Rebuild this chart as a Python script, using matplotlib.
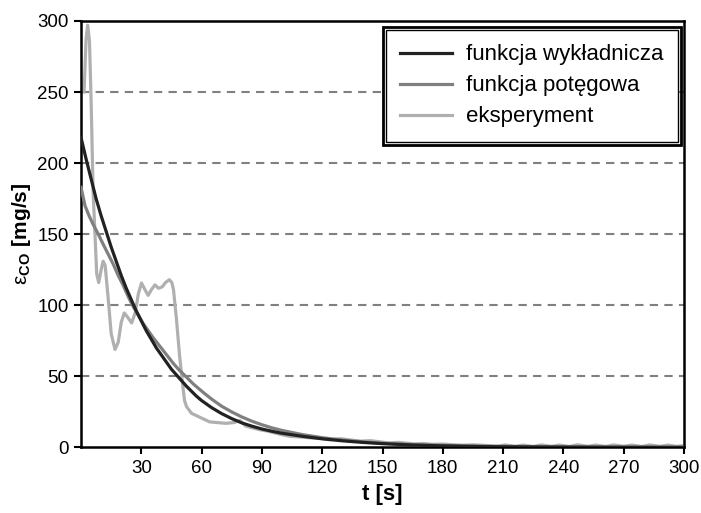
"""CO emission vs time: exponential and power fits against experiment."""

import matplotlib
matplotlib.use("Agg")
import matplotlib.pyplot as plt
from matplotlib.patches import Rectangle

plt.rcParams["font.family"] = ["Liberation Sans", "DejaVu Sans"]
plt.rcParams["mathtext.fontset"] = "custom"
plt.rcParams["mathtext.rm"] = "Liberation Sans"
plt.rcParams["mathtext.bf"] = "Liberation Sans:bold"

# fitted exponential function
t_exp = [0, 2.5, 5, 7.5, 10, 12.5, 15, 17.5, 20, 22.5, 25, 27.5, 30, 32.5,
         35, 37.5, 40, 42.5, 45, 47.5, 50, 52.5, 55, 57.5, 60, 65, 70, 75,
         80, 85, 90, 95, 100, 110, 120, 130, 140, 150, 165, 180, 200, 230,
         260, 300]
v_exp = [218, 203, 189, 175, 163, 152, 141, 131, 121, 112, 104, 96, 89, 82,
         76, 70, 65, 60, 55, 51, 47, 43, 39.5, 36, 33, 28, 23.8, 20.3, 17.3,
         15, 13, 11.4, 10, 7.9, 6.1, 4.7, 3.6, 2.7, 1.7, 1.1, 0.6, 0.3, 0.15,
         0.05]

# fitted power function
t_pow = [0, 2, 4, 6, 8.6, 11, 13.5, 16, 18.5, 21, 23.5, 26, 28.5, 31, 33.5,
         36, 38.5, 41, 43.5, 46, 48.5, 51, 53.5, 56, 58.5, 61, 65, 70, 75,
         80, 85, 90, 95, 100, 110, 120, 130, 140, 150, 165, 180, 200, 230,
         260, 300]
v_pow = [183, 170, 163, 157, 150, 143, 136, 129, 121, 114, 106, 99, 93, 87,
         82, 77, 72.5, 68, 63.5, 59, 55, 51.5, 48, 44.5, 41.5, 38.5, 34, 29,
         25, 21.5, 18.5, 16, 13.8, 12, 9.1, 6.9, 5.2, 4, 3, 2.1, 1.5, 0.9,
         0.5, 0.3, 0.15]

# experiment
t_meas = [1.5, 2.5, 3.3, 4.2, 5, 6, 7, 7.8, 8.8, 10, 11, 12, 13.5, 15, 16.9,
          18.5, 20, 21.5, 23, 25.2, 27, 28.5, 30.1, 31.8, 33.4, 35, 36.8,
          38.5, 40.4, 42, 43.9, 45.2, 46, 47.5, 49, 50.5, 51.5, 52.5, 55, 58,
          61, 64, 68, 72, 76, 79, 82, 86, 89, 93, 97, 100, 104, 108, 114, 119,
          124, 129, 134, 139, 144, 148.5, 153, 158, 162, 166, 170, 175, 180,
          184, 190, 195, 202, 207, 211, 216, 220, 225, 229, 234, 238, 243,
          247, 252, 256, 261, 265, 270, 274, 279, 283, 288, 292, 296, 300]
v_meas = [250, 287, 297, 286, 245, 180, 148, 122, 116, 125, 131, 128, 105, 80,
          69, 74, 88, 94.6, 92, 87.6, 95, 108, 115.7, 111, 107, 111, 114.4,
          112, 113, 116, 118, 116, 111, 90, 65, 45, 33, 28.7, 24, 22, 20, 18,
          17.5, 17, 17.5, 19, 15, 13.5, 12.5, 11.5, 10, 9, 7.8, 7.5, 6.8, 6.6,
          5.5, 6.2, 5.3, 4.5, 4.8, 4, 3.2, 3.6, 3, 2.5, 2.8, 2.2, 2.4, 2, 1.6,
          1.9, 1.4, 0.8, 1.8, 0.8, 1.7, 0.7, 1.8, 0.8, 1.7, 0.7, 1.9, 0.8,
          1.7, 0.7, 1.8, 0.8, 1.7, 0.7, 1.8, 0.8, 1.7, 0.8, 1.2]

x_ticks = list(range(30, 301, 30))
y_ticks = list(range(0, 301, 50))

fig = plt.figure(figsize=(7.01, 5.13), dpi=100)
ax = fig.add_axes([0.1156, 0.1277, 0.8601, 0.8314])

for y in y_ticks[1:-1]:
    ax.axhline(y, color="#808080", lw=1.5, ls=(0, (4, 3)), zorder=1)

ax.plot(t_exp, v_exp, color="#222222", lw=2.3, label="funkcja wykładnicza",
        zorder=4)
ax.plot(t_pow, v_pow, color="#808080", lw=2.3, label="funkcja potęgowa",
        zorder=3)
ax.plot(t_meas, v_meas, color="#b0b0b0", lw=2.3, label="eksperyment",
        zorder=2)

ax.set_xlim(0, 300)
ax.set_ylim(0, 300)
ax.set_xticks(x_ticks)
ax.set_yticks(y_ticks)
ax.tick_params(direction="out", length=5, width=1.5, labelsize=13.5, pad=4)
for s in ax.spines.values():
    s.set_linewidth(1.8)

ax.set_xlabel("t [s]", fontsize=16, fontweight="bold", labelpad=5)
ax.set_ylabel(r"$\mathrm{ε}_{\mathbf{CO}}\ \mathbf{[mg/s]}$", fontsize=15,
              labelpad=3)

leg = ax.legend(loc="upper right", bbox_to_anchor=(0.99, 0.979),
                borderaxespad=0, fontsize=16, handlelength=2.3,
                handletextpad=0.65, labelspacing=0.45, borderpad=0.65,
                fancybox=False, framealpha=1)
leg.get_frame().set_edgecolor("black")
leg.get_frame().set_linewidth(1.0)

fig.canvas.draw()
bb = leg.get_window_extent().transformed(fig.transFigure.inverted())
px = 3 / fig.bbox.width
py = 3 / fig.bbox.height
fig.add_artist(Rectangle((bb.x0 - px, bb.y0 - py), bb.width + 2 * px,
                         bb.height + 2 * py, transform=fig.transFigure,
                         fill=False, edgecolor="black", lw=2, zorder=10))

fig.savefig("out.png", dpi=100)
plt.close(fig)
